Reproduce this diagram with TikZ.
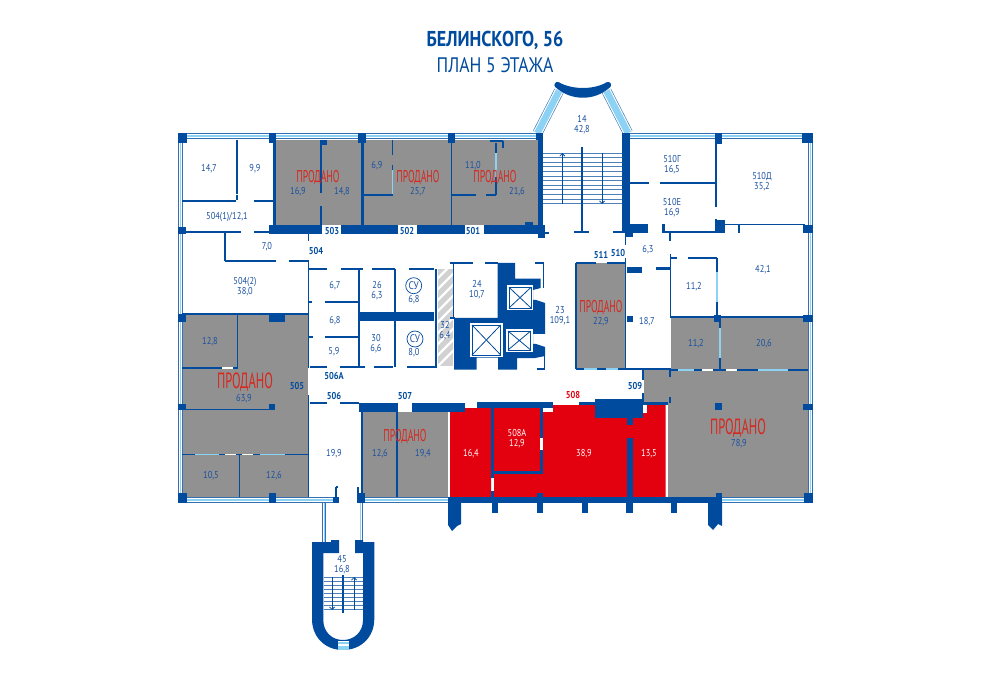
\documentclass[tikz,border=0pt]{standalone}
\usepackage{fontspec}
\usetikzlibrary{arrows.meta}
\setmainfont{PT Sans}
\newfontfamily\labfont[FakeStretch=0.84]{PT Sans}
\newfontfamily\soldfont[FakeStretch=0.57]{PT Sans}
\definecolor{wallblue}{RGB}{0,75,158}
\definecolor{textblue}{RGB}{25,80,160}
\definecolor{glassblue}{RGB}{140,210,245}
\definecolor{roomgrey}{RGB}{145,145,145}
\definecolor{salered}{RGB}{227,0,15}
\definecolor{soldred}{RGB}{214,40,30}
\newcommand{\glazing}[3]{
    \draw[wallblue!80!white,line width=#1] #2 -- #3;
    \draw[white,line width=#1-1.2] #2 -- #3;
    \draw[glassblue,line width=#1-3.4] #2 -- #3;
}
\newcommand{\liftbox}[4]{
    \fill[white] (#1,#2) rectangle (#3,#4);
    \draw[wallblue,line width=0.8] (#1+2,#2+2) rectangle (#3-2,#4-2);
    \draw[wallblue,line width=0.8] (#1+2,#2+2) -- (#3-2,#4-2) (#3-2,#2+2) -- (#1+2,#4-2);
}
\begin{document}
\begin{tikzpicture}[x=1pt,y=-1pt,
    lab/.style={text=textblue,font=\labfont\fontsize{10}{10}\selectfont,align=center,inner sep=0pt},
    whitelab/.style={lab,text=white},
    doorlab/.style={text=wallblue,font=\labfont\bfseries\fontsize{10}{10}\selectfont,inner sep=0pt},
    sold/.style={text=soldred,font=\soldfont\fontsize{17}{18}\selectfont,inner sep=0pt},
    bigsold/.style={text=soldred,font=\soldfont\fontsize{22}{24}\selectfont,inner sep=0pt},
    thinwall/.style={wallblue,line width=1.9},
    stairline/.style={wallblue!70!white,line width=0.8},
    stairarrow/.style={wallblue,line width=0.8,-{Straight Barb[length=2.5pt,width=5pt]}}]
    \useasboundingbox (0,0) rectangle (990,700);

    % sold rooms
    \foreach \a/\b/\c/\d in {275/140/362/225,363/140/451/225,451/140/538/225,182/314/308/497,362/412/448/497,577/263/625/369,671/318/808/370,668/370/808/497}{
        \fill[roomgrey] (\a,\b) rectangle (\c,\d);
    }
    \fill[roomgrey] (644,370) rectangle (668,402);

    % rooms for sale
    \fill[salered] (450,412) -- (465,412) -- (465,408) -- (491,408) -- (491,497) -- (450,497) -- cycle;
    \fill[salered] (494,408) rectangle (539.5,471);
    \fill[salered] (494,471) rectangle (543,497);
    \fill[salered] (543,412) -- (553,412) -- (553,405) -- (595,405) -- (595,418) -- (627,418) -- (627,425) -- (633,425) -- (633,413) -- (647,413) -- (647,405) -- (665.5,405) -- (665.5,497) -- (543,497) -- cycle;

    % hatched room
    \begin{scope}
        \clip (438,269) rectangle (453,366);
        \fill[black!18] (438,269) rectangle (453,366);
        \foreach \y in {0,...,9}{
            \draw[white,line width=2.4] (436,269+\y*11) -- (456,249+\y*11);
        }
    \end{scope}

    % glazing
    \glazing{6}{(178,136)}{(537,136)}
    \glazing{6}{(629,136)}{(813,136)}
    \glazing{5}{(180.5,133)}{(180.5,503)}
    \glazing{5}{(810.5,133)}{(810.5,503)}
    \glazing{6}{(178,500)}{(336,500)}
    \glazing{6}{(362,500)}{(448,500)}
    \glazing{6}{(722,500)}{(810,500)}
    \glazing{10}{(559,91)}{(537.5,133)}
    \glazing{10}{(606.5,91)}{(628,133)}
    \glazing{4}{(324,503)}{(324,542)}
    \glazing{4}{(360.5,503)}{(360.5,542)}

    % thick walls and columns
    \foreach \a/\b/\c/\d in {269/225/322/234,341/225/398/234,417/225/465/234,484/225/545/234,
        272.5/133/275.5/225,360.5/133/363.5/225,538/133/543/233,622/133/630/232,
        178/133/187/143,269/133/276/143,358/133/366/143,448/133/455/143,536/133/543/140,
        715/133/722/144,802/133/813/143,178/227/186/234,321/140/327/145,525/222/533/225,
        538/232/545/238,625/224/648/233,625/233/633/237,662/224/665/233,715/220/725/233,803/225/813/233,
        627/267/642/273,656/267/670/270,627/316/633/322,714/315/721/322,803/315/813/322,
        178/314/186/322,269/314/285/322,178/404/186/410,269/404/275/410,715/403/722/410,803/404/813/410,
        359/312/434/321,359/403/398/412,412/403/465/412,477/402/553/408,579/402/595/405,595/399/643/418,643/402/668/405,
        627/418/633/425,627/438/633/497,491/408/494/478,491/491/494/497,539.5/408/543/438,539.5/450/543/474,491/471/543/474,537/493/543/497,
        178/493/187/503,269/493/276/503,333/497/339/503,357/493/365/503,448/497/722/503,716/493/722/503,804/493/813/503,
        492/503/498/513,537/503/543/513,582/503/588/513,626/503/633/513,671/503/677/513}{
        \fill[wallblue] (\a,\b) rectangle (\c,\d);
    }
    \fill[wallblue] (448,503) -- (461,503) -- (461,524) -- (457,526) -- (452,531) -- (448,525) -- cycle;
    \fill[wallblue] (708,503) -- (722,503) -- (722,526) -- (718,524) -- (713,530) -- (708,525) -- cycle;

    % thin walls
    \foreach \a/\b/\c/\d in {237/140/237/194,237/195/237/200,182/201/236/201,254/201/273/201,182/232/241/232,254/232/270/232,
        225/233/225/261,225/261/276/261,289/261/309/261,308.5/234/308.5/241,308.5/261/308.5/368,308.5/395/308.5/497,
        309/269/327/269,341/269/363/269,372/269/395/269,409/269/434/269,
        359/269/359/367,395/269/395/367,436/269/436/367,453.5/263/453.5/318,
        309/302/312/302,325/302/359/302,309/337/313/337,325/337/359/337,
        310/366.7/327/366.7,340/366.7/359/366.7,359/366.7/365/366.7,374/366.7/393/366.7,407/366.7/437/366.7,
        310/403/327/403,340/403/359/403,362/412/362/497,397/412/397/497,
        321/140/321/193,321/206/321/225,363/195/393/195,392.5/140/392.5/155,392.5/165/392.5/170,
        451.5/140/451.5/225,451/195/476/195,486/195/496/195,490/141/503/141,503/141/503/148,496/143/496/153,496/177/496/195,
        549/233/538/233,574/232/589/232,613/232/625/232,630/183/649/183,660/183/715/183,716/140/716/207,716/219/716/232,
        665/232/715/232,670/233/670/241,715/224.5/805/224.5,739/225/739/233,625.5/233/625.5/245,
        670.5/254/670.5/318,671/258/677/258,688/258/717/258,717/258/717/272,717/302/717/318,
        625.5/258/625.5/369,576/263/596/263,607/263/625/263,576/263/576/369,
        671/317/808/317,720/318/720/328,720/358/720/370,
        576/369/671/369,643/369/643/380,643/393/643/402,670/370/670/377,670/397/670/403,
        671/370/808/370,182/314/308/314,237.5/314/237.5/369,182/368/237.5/368,186/409.5/272/409.5,
        182/454.5/308/454.5,239.5/455/239.5/497,336/487/336/497,336/487/338/487,358/487/358/493,
        450/263/473/263,485/263/498/263,535/263/543.5/263,543.5/263/543.5/288,537/368.7/544.5/368.7,544.5/356/544.5/368.7,
        450/318/455/318}{
        \draw[thinwall] (\a,\b) -- (\c,\d);
    }
    % glass and door breaks in the walls
    \foreach \a/\b/\c/\d in {392.5/170/392.5/194,496/153/496/177,717/272/717/302,720/328/720/358,
        584/369/597/369,606/369/618/369,678/370/694/370,758/370/788/370,195/454.5/219/454.5,260/454.5/285/454.5}{
        \draw[glassblue,line width=1.9] (\a,\b) -- (\c,\d);
    }
    \foreach \a/\b/\c/\d in {702/370/713/370,726/370/737/370,222/368/233/368,225/454.5/236/454.5,242/454.5/253/454.5,
        492.5/478/492.5/491,541/438/541/450}{
        \draw[white,line width=1.9] (\a,\b) -- (\c,\d);
    }

    % lift core
    \fill[wallblue] (454,318) -- (497.7,318) -- (497.7,263) -- (515,263) -- (515,278.7) -- (540.7,278.7) -- (540.7,288) -- (533,290) -- (533,300) -- (536,300) -- (545,303) -- (545,334) -- (533,334) -- (533,344) -- (536,344) -- (545,347) -- (545,356) -- (535,358) -- (517,358) -- (517,369.7) -- (498,369.7) -- (498,357.5) -- (476.7,357.5) -- (476.7,369.7) -- (454,369.7) -- cycle;
    \liftbox{507}{285.3}{533}{310}
    \liftbox{470}{323}{502.7}{357}
    \liftbox{506}{329}{532.7}{352}

    % main stair
    \foreach \y in {0,...,11}{
        \draw[stairline] (543,153+\y*4.6) -- (622,153+\y*4.6);
    }
    \draw[stairarrow] (562.3,204) -- (562.3,153);
    \draw[stairarrow] (602,153) -- (602,204);
    \draw[wallblue,line width=1.9] (582.3,147) -- (582.3,232);
    \draw[wallblue,line width=6,line cap=round] (557.5,85) .. controls (572,93) and (594,93) .. (608,85);
    \draw[wallblue,line width=6,line cap=round] (557.5,85) .. controls (572,98) and (594,98) .. (608,85);

    % lower stair
    \fill[wallblue] (312,542) -- (331,542) -- (331,540) -- (339,540) -- (339,553) -- (323.3,553) -- (323.3,620) .. controls (323.3,632) and (332,640) .. (343,640) .. controls (354,640) and (363,632) .. (363,620) -- (363,553) -- (355,553) -- (355,540) -- (363,540) -- (363,542) -- (374.3,542) -- (374.3,619) .. controls (374.3,637) and (361,650) .. (343,650) .. controls (325,650) and (312,637) .. (312,619) -- cycle;
    \fill[white] (338,641) rectangle (349,651);
    \fill[glassblue] (338,642) rectangle (349,644);
    \fill[glassblue] (338,646) rectangle (349,650);
    \foreach \y in {0,...,8}{
        \draw[stairline] (323.5,577+\y*4) -- (363,577+\y*4);
    }
    \draw[stairarrow] (332,577) -- (332,610);
    \draw[stairarrow] (354,610) -- (354,577);
    \draw[wallblue,line width=1.6] (342.7,575) -- (342.7,613);

    % lavatory signs
    \node[draw=wallblue,circle,minimum size=16,line width=0.7,inner sep=0pt,text=textblue,font=\labfont\fontsize{11}{12}\selectfont] (suone) at (413.7,285.7) {СУ};
    \node[draw=wallblue,circle,minimum size=16,line width=0.7,inner sep=0pt,text=textblue,font=\labfont\fontsize{11}{12}\selectfont] (sutwo) at (415,339) {СУ};

    % room labels
    \foreach \x/\y/\t in {582/125/{14\\42,8},209/169/{14,7},255/169/{9,9},227/217/{504(1)/12,1},267/247/{7,0},
        298/192/{16,9},342/192/{14,8},377/166/{6,9},418/192/{25,7},473/166/{11,0},517/192/{21,6},
        672/165/{510Г\\16,5},672/208/{510Е\\16,9},762/182/{510Д\\35,2},648/250/{6,3},763/270/{42,1},694/287/{11,2},
        560/316/{23\\109,1},601/322/{22,9},647/322/{18,7},696/344/{11,2},764/344/{20,6},739/444/{78,9},
        477/290/{24\\10,7},377/291/{26\\6,3},414/300/{6,8},335/286/{6,7},335/321/{6,8},334/352/{5,9},
        376/344/{30\\6,6},414/353/{8,0},445/331/{32\\6,4},245/287/{504(2)\\38,0},210/342/{12,8},244/399/{63,9},
        334/454/{19,9},380/454/{12,6},423/454/{19,4},211/476/{10,5},274/476/{12,6},342/565/{45\\16,8}}{
        \node[lab] (room\x-\y) at (\x,\y) {\t};
    }
    \foreach \x/\y/\t in {471/454/{16,4},517/439/{508А\\12,9},584/454/{38,9},649/454/{13,5}}{
        \node[whitelab] (sale\x-\y) at (\x,\y) {\t};
    }
    % door numbers
    \foreach \x/\y/\t in {316/251/504,332/231/503,407/231/502,473/231/501,601/255/511,618/253/510,
        635/386/509,297/386/505,334/376/506А,334/396/506,405/396/507}{
        \node[doorlab] (door\x-\y) at (\x,\y) {\t};
    }
    \node[doorlab,text=salered] (doorsale) at (573,395) {508};
    % sold marks
    \foreach \x/\y in {318/178,418/178,495/178,601/308,405/437}{
        \node[sold] (sold\x-\y) at (\x,\y) {ПРОДАНО};
    }
    \node[bigsold] (soldleft) at (245,382) {ПРОДАНО};
    \node[bigsold] (soldright) at (738,428) {ПРОДАНО};

    % title
    \node[text=wallblue,font=\labfont\bfseries\fontsize{21.5}{22}\selectfont,inner sep=0pt] (titleone) at (495,40) {БЕЛИНСКОГО, 56};
    \node[text=wallblue,font=\labfont\fontsize{21}{22}\selectfont,inner sep=0pt] (titletwo) at (495,65) {ПЛАН 5 ЭТАЖА};
\end{tikzpicture}
\end{document}
